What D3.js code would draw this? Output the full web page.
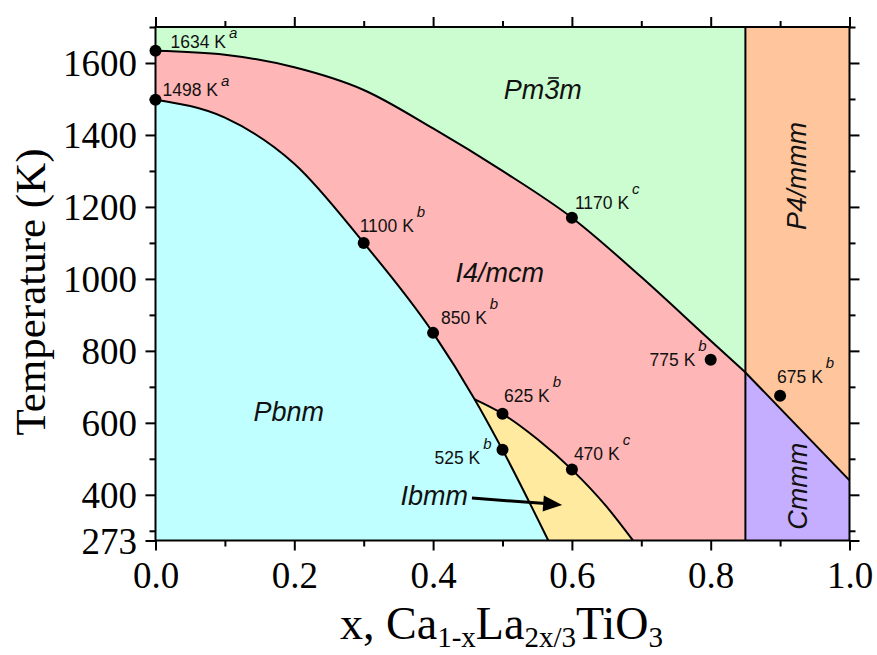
<!DOCTYPE html>
<html>
<head>
<meta charset="utf-8">
<script src="https://cdn.jsdelivr.net/npm/d3@7"></script>
<style>
  body { margin: 0; background: #fff; }
  svg { display: block; }
</style>
</head>
<body>
<svg id="chart" width="877" height="655"></svg>
<script>
// ---- axis ticks -------------------------------------------------------
const xMajorTicks = [0, 0.2, 0.4, 0.6, 0.8, 1.0];
const xMinorTicks = [0.1, 0.3, 0.5, 0.7, 0.9];
const tMajorTicks = [273, 400, 600, 800, 1000, 1200, 1400, 1600];
const tMinorTicks = [300, 500, 700, 900, 1100, 1300, 1500, 1700];

// ---- phase boundaries (x, temperature in K) ---------------------------
// Pm-3m / I4/mcm
const cubicX = [0, 0.1, 0.2, 0.3, 0.4, 0.5, 0.6, 0.7, 0.8, 0.85];
const cubicT = [1634, 1623, 1588, 1525, 1418, 1300, 1170, 1005, 828, 740];
// I4/mcm (and Ibmm) / Pbnm
const pbnmX = [0, 0.1, 0.2, 0.3, 0.4, 0.46, 0.5, 0.566];
const pbnmT = [1498, 1448, 1320, 1100, 850, 665, 525, 273];
// Ibmm / I4/mcm
const ibmmX = [0.46, 0.5, 0.55, 0.6, 0.65, 0.688];
const ibmmT = [665, 625, 555, 470, 367, 273];
// P4/mmm / Cmmm
const cmmmX = [0.85, 1.0];
const cmmmT = [740, 440];
// tetragonal / orthorhombic split
const splitX = 0.85;

// ---- measured transition points ----------------------------------------
const pointX   = [0, 0, 0.3, 0.4, 0.5, 0.5, 0.6, 0.6, 0.8, 0.9];
const pointT   = [1634, 1498, 1100, 850, 625, 525, 1170, 470, 775, 675];
const pointRef = ['a', 'a', 'b', 'b', 'b', 'b', 'c', 'c', 'b', 'b'];

// ---- phase names --------------------------------------------------------
const phaseNames = ['Pm3m', 'I4/mcm', 'Pbnm', 'Ibmm', 'P4/mmm', 'Cmmm'];

// ---- layout --------------------------------------------------------------
const W = 877, H = 655;
const plot = { left: 155.5, right: 849.5, top: 27, bottom: 540.5 };
const colors = {
  cubic: '#ccfdd0',
  tetra: '#ffb6b6',
  ortho: '#c0ffff',
  ibmm: '#ffeaa0',
  p4: '#ffc59c',
  cmmm: '#c5adff'
};
// label placement relative to its point (pixels)
const pointLabelLayout = [
  { dx: 15, dy: -3, anchor: 'start' },
  { dx: 7, dy: -4, anchor: 'start' },
  { dx: -4, dy: -11, anchor: 'start' },
  { dx: 8, dy: -9, anchor: 'start' },
  { dx: 1.5, dy: -12, anchor: 'start' },
  { dx: -11, dy: 14, anchor: 'end' },
  { dx: 3, dy: -9, anchor: 'start' },
  { dx: 2, dy: -10, anchor: 'start' },
  { dx: -4, dy: 6, anchor: 'end' },
  { dx: -3, dy: -12.5, anchor: 'start' }
];
// phase label anchors in data units
const phaseLabelLayout = [
  { x: 0.558, t: 1500, rotate: false },
  { x: 0.496, t: 991, rotate: false },
  { x: 0.192, t: 605, rotate: false },
  { x: 0.4015, t: 372, rotate: false },
  { x: 0.9373, t: 1286, rotate: true },
  { x: 0.9388, t: 424, rotate: true }
];
const arrowFrom = { x: 0.456, t: 391 };
const arrowTo = { x: 0.586, t: 372 };

const svg = d3.select('#chart');

const x = d3.scaleLinear().domain([0, 1]).range([plot.left, plot.right]);
const y = d3.scaleLinear().domain([273, 1700]).range([plot.bottom, plot.top]);

const zip = (xs, ts) => xs.map((v, i) => [v, ts[i]]);
const curve = d3.curveMonotoneX;

const areaBelow = d3.area()
  .x(d => x(d[0]))
  .y0(y(273))
  .y1(d => y(d[1]))
  .curve(curve);
const lineGen = d3.line()
  .x(d => x(d[0]))
  .y(d => y(d[1]))
  .curve(curve);

const regions = svg.append('g');
// Pm-3m field (whole left part), I4/mcm below it
regions.append('rect')
  .attr('x', x(0)).attr('y', y(1700))
  .attr('width', x(splitX) - x(0)).attr('height', y(273) - y(1700))
  .attr('fill', colors.cubic);
regions.append('path').attr('d', areaBelow(zip(cubicX, cubicT))).attr('fill', colors.tetra);
regions.append('path').attr('d', areaBelow(zip(ibmmX, ibmmT))).attr('fill', colors.ibmm);
regions.append('path').attr('d', areaBelow(zip(pbnmX, pbnmT))).attr('fill', colors.ortho);
// x > 0.85: P4/mmm over Cmmm
regions.append('rect')
  .attr('x', x(splitX)).attr('y', y(1700))
  .attr('width', x(1) - x(splitX)).attr('height', y(273) - y(1700))
  .attr('fill', colors.p4);
regions.append('path')
  .attr('d', d3.area().x(d => x(d[0])).y0(y(273)).y1(d => y(d[1]))(zip(cmmmX, cmmmT)))
  .attr('fill', colors.cmmm);

// boundary lines
const lines = svg.append('g').attr('fill', 'none').attr('stroke', '#000').attr('stroke-width', 2);
lines.append('path').attr('d', lineGen(zip(cubicX, cubicT)));
lines.append('path').attr('d', lineGen(zip(pbnmX, pbnmT)));
lines.append('path').attr('d', lineGen(zip(ibmmX, ibmmT)));
lines.append('path').attr('d', d3.line().x(d => x(d[0])).y(d => y(d[1]))(zip(cmmmX, cmmmT)));
lines.append('line')
  .attr('x1', x(splitX)).attr('x2', x(splitX))
  .attr('y1', y(1700)).attr('y2', y(273));

// ---- axes ----------------------------------------------------------------
function styleAxis(g) {
  g.select('.domain').remove();
  g.selectAll('.tick line').attr('stroke', '#000').attr('stroke-width', 2);
  g.attr('font-family', "'Liberation Serif', 'Times New Roman', serif").attr('font-size', 37);
  g.selectAll('.tick text').attr('fill', '#000');
}

const axBottom = svg.append('g').attr('transform', `translate(0,${plot.bottom})`)
  .call(d3.axisBottom(x).tickValues(xMajorTicks).tickSize(10).tickFormat(d3.format('.1f')))
  .call(styleAxis);
axBottom.selectAll('.tick text').attr('y', 47.5).attr('dy', 0);
svg.append('g').attr('transform', `translate(0,${plot.bottom})`)
  .call(d3.axisBottom(x).tickValues(xMinorTicks).tickSize(6).tickFormat(''))
  .call(styleAxis);

svg.append('g').attr('transform', `translate(0,${plot.top})`)
  .call(d3.axisTop(x).tickValues(xMajorTicks).tickSize(10).tickFormat(''))
  .call(styleAxis);
svg.append('g').attr('transform', `translate(0,${plot.top})`)
  .call(d3.axisTop(x).tickValues(xMinorTicks).tickSize(6).tickFormat(''))
  .call(styleAxis);

const axLeft = svg.append('g').attr('transform', `translate(${plot.left},0)`)
  .call(d3.axisLeft(y).tickValues(tMajorTicks).tickSize(10).tickFormat(d3.format('d')))
  .call(styleAxis);
axLeft.selectAll('.tick text').attr('x', -18.5).attr('dy', '0.34em');
svg.append('g').attr('transform', `translate(${plot.left},0)`)
  .call(d3.axisLeft(y).tickValues(tMinorTicks).tickSize(6).tickFormat(''))
  .call(styleAxis);

svg.append('g').attr('transform', `translate(${plot.right},0)`)
  .call(d3.axisRight(y).tickValues(tMajorTicks).tickSize(10).tickFormat(''))
  .call(styleAxis);
svg.append('g').attr('transform', `translate(${plot.right},0)`)
  .call(d3.axisRight(y).tickValues(tMinorTicks).tickSize(6).tickFormat(''))
  .call(styleAxis);

// frame
svg.append('rect')
  .attr('x', plot.left).attr('y', plot.top)
  .attr('width', plot.right - plot.left).attr('height', plot.bottom - plot.top)
  .attr('fill', 'none').attr('stroke', '#000').attr('stroke-width', 2);

// axis titles
const serif = "'Liberation Serif', 'Times New Roman', serif";
svg.append('text')
  .attr('transform', `translate(45,292) rotate(-90)`)
  .attr('text-anchor', 'middle')
  .attr('font-family', serif).attr('font-size', 43)
  .text('Temperature (K)');

const xTitle = svg.append('text')
  .attr('x', 501.5).attr('y', 639)
  .attr('text-anchor', 'middle')
  .attr('font-family', serif).attr('font-size', 46);
const subSize = 29;
const subShift = 8;
[['x, Ca', false], ['1-x', true], ['La', false], ['2x/3', true], ['TiO', false], ['3', true]]
  .forEach(([s, sub], i, arr) => {
    const prevSub = i > 0 && arr[i - 1][1];
    const t = xTitle.append('tspan').text(s);
    if (sub) t.attr('font-size', subSize).attr('dy', subShift);
    else if (prevSub) t.attr('dy', -subShift);
  });

// ---- transition points and labels ----------------------------------------
const sans = "'Liberation Sans', Arial, sans-serif";
const ptsG = svg.append('g');
pointX.forEach((px, i) => {
  const cx = x(px), cy = y(pointT[i]);
  ptsG.append('circle').attr('cx', cx).attr('cy', cy).attr('r', 6).attr('fill', '#000');
  const lay = pointLabelLayout[i];
  const raise = pointRef[i] === 'a' ? 10 : 15;
  const t = ptsG.append('text')
    .attr('x', cx + lay.dx).attr('y', cy + lay.dy)
    .attr('text-anchor', lay.anchor)
    .attr('font-family', sans).attr('font-size', 17.5).attr('fill', '#111');
  t.append('tspan').text(`${pointT[i]} K`);
  t.append('tspan').text(pointRef[i])
    .attr('dx', 3).attr('dy', -raise)
    .attr('font-size', 15).attr('font-style', 'italic');
});

// ---- phase labels -----------------------------------------------------------
const phG = svg.append('g');
phaseNames.forEach((name, i) => {
  const lay = phaseLabelLayout[i];
  const px = x(lay.x), py = y(lay.t);
  const t = phG.append('text')
    .attr('text-anchor', 'middle')
    .attr('font-family', sans).attr('font-size', 27).attr('font-style', 'italic')
    .attr('fill', '#111')
    .text(name);
  if (lay.rotate) t.attr('transform', `translate(${px},${py}) rotate(-90)`);
  else t.attr('x', px).attr('y', py);
  if (name === 'Pm3m') {
    // bar over the 3 (roto-inversion axis)
    const ext = t.node().getExtentOfChar(2);
    phG.append('line')
      .attr('x1', ext.x + 4).attr('x2', ext.x + ext.width - 0.5)
      .attr('y1', py - 21).attr('y2', py - 21)
      .attr('stroke', '#111').attr('stroke-width', 1.6);
  }
});

// arrow pointing into the Ibmm field
const ax1 = x(arrowFrom.x), ay1 = y(arrowFrom.t);
const ax2 = x(arrowTo.x), ay2 = y(arrowTo.t);
const ang = Math.atan2(ay2 - ay1, ax2 - ax1);
const headLen = 19, headHalf = 8;
const bx = ax2 - headLen * Math.cos(ang), by = ay2 - headLen * Math.sin(ang);
svg.append('line')
  .attr('x1', ax1).attr('y1', ay1).attr('x2', bx + 2 * Math.cos(ang)).attr('y2', by + 2 * Math.sin(ang))
  .attr('stroke', '#000').attr('stroke-width', 3);
svg.append('polygon')
  .attr('points', [
    [ax2, ay2],
    [bx - headHalf * Math.sin(ang), by + headHalf * Math.cos(ang)],
    [bx + headHalf * Math.sin(ang), by - headHalf * Math.cos(ang)]
  ].map(p => p.join(',')).join(' '))
  .attr('fill', '#000');
</script>
</body>
</html>
